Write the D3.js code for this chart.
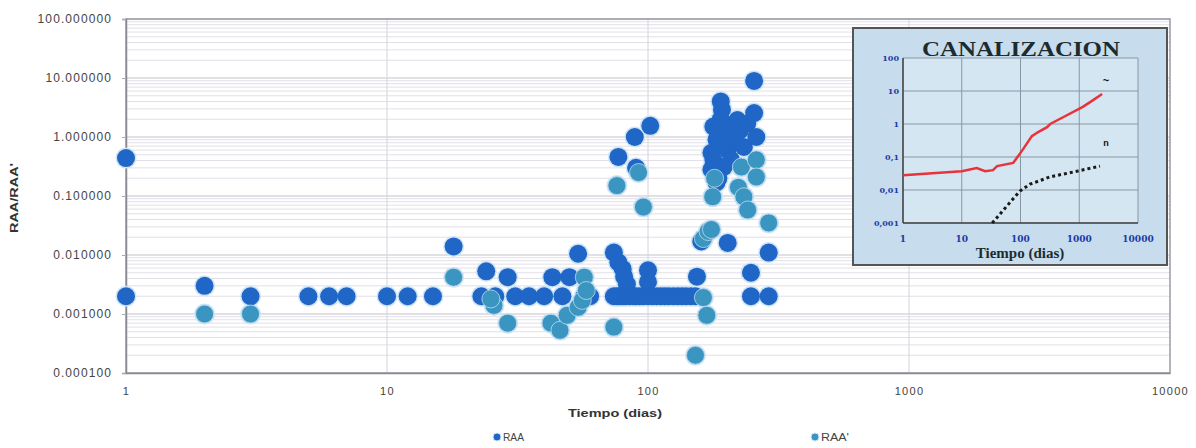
<!DOCTYPE html>
<html>
<head>
<meta charset="utf-8">
<script src="https://cdn.jsdelivr.net/npm/d3@7"></script>
<style>
body { margin: 0; background: #fff; }
text { font-family: "Liberation Sans", Arial, sans-serif; }
</style>
</head>
<body>
<svg id="chart" width="1196" height="448"></svg>
<script>
"use strict"

// RAA series (tiempo, valor)
const raaTime = [1, 1, 2, 3, 5, 6, 7, 10, 12, 15, 18,
    23, 24, 26, 29, 31, 35, 40, 43, 47, 50, 54, 57, 60,
    74, 77, 80, 81, 83, 74, 76, 78, 80, 82, 85, 88, 90, 93, 96, 100, 100, 100,
    104, 108, 112, 116, 120, 125, 130, 135, 140, 146, 152, 154,
    77, 89, 102, 90, 160, 202,
    190, 192, 178, 183, 175, 175, 183, 195, 202, 202, 220, 216, 233, 208, 178,
    190, 185, 195, 210, 225, 240, 255, 255, 260, 186,
    248, 290, 248, 290]
const raaValue = [0.44, 0.002, 0.003, 0.002, 0.002, 0.002, 0.002, 0.002, 0.002, 0.002, 0.014,
    0.002, 0.0053, 0.002, 0.0042, 0.002, 0.002, 0.002, 0.0042, 0.002, 0.0042, 0.0105, 0.002, 0.002,
    0.011, 0.0075, 0.0058, 0.0043, 0.0032, 0.002, 0.002, 0.002, 0.002, 0.002, 0.002, 0.002, 0.002, 0.002, 0.002, 0.002, 0.0055, 0.0035,
    0.002, 0.002, 0.002, 0.002, 0.002, 0.002, 0.002, 0.002, 0.002, 0.002, 0.002, 0.0043,
    0.46, 1.0, 1.55, 0.3, 0.017, 0.016,
    4.0, 2.9, 1.5, 0.9, 0.54, 0.28, 0.17, 0.31, 0.6, 1.5, 1.94, 0.9, 0.68, 0.41, 0.41,
    2.0, 1.2, 0.75, 1.2, 1.3, 1.7, 8.9, 2.55, 1.0, 0.2,
    0.005, 0.011, 0.002, 0.002]

// RAA' series
const raapTime = [2, 3, 18, 25.7, 25, 29, 42.5, 46, 49, 54, 56, 57, 58, 74,
    76, 96, 92,
    152, 163, 168, 163, 170, 175,
    177, 222, 228, 233, 241, 260, 260, 290, 180]
const raapValue = [0.001, 0.001, 0.0042, 0.0014, 0.0018, 0.0007, 0.0007, 0.00053, 0.00095, 0.0013, 0.0017, 0.0042, 0.0025, 0.0006,
    0.15, 0.065, 0.25,
    0.0002, 0.0019, 0.00095, 0.019, 0.025, 0.027,
    0.097, 0.14, 0.31, 0.097, 0.058, 0.41, 0.21, 0.035, 0.2]

const xTicks = [1, 10, 100, 1000, 10000]
const yTicks = [0.0001, 0.001, 0.01, 0.1, 1, 10, 100]

// inset "CANALIZACION"
const insetTitle = "CANALIZACION"
const redTime = [1, 10, 18, 25, 34, 40, 75, 110, 156, 200, 283, 320, 530, 1150, 1530, 2450]
const redValue = [0.028, 0.037, 0.046, 0.037, 0.04, 0.053, 0.066, 0.17, 0.43, 0.57, 0.8, 1.0, 1.6, 3.3, 4.6, 8.1]
const dotTime = [33, 59, 98, 145, 320, 910, 2250]
const dotValue = [0.001, 0.0033, 0.0093, 0.015, 0.025, 0.037, 0.053]
const insetXTicks = [1, 10, 100, 1000, 10000]
const insetXLabels = ["1", "10", "100", "1000", "10000"]
const insetYTicks = [0.001, 0.01, 0.1, 1, 10, 100]
const insetYLabels = ["0,001", "0,01", "0,1", "1", "10", "100"]

const svg = d3.select("#chart")
const pLeft = 126, pRight = 1170, pTop = 19, pBottom = 373

let x = d3.scaleLog().domain([1, 10000]).range([pLeft, pRight])
let y = d3.scaleLog().domain([0.0001, 100]).range([pBottom, pTop])

// minor + major gridlines
let minor = []
for (let e = -4; e < 2; e++)
    for (let m = 2; m <= 9; m++) minor.push(m * Math.pow(10, e))

svg.append("g").selectAll("line").data(minor).enter().append("line")
    .attr("x1", pLeft).attr("x2", pRight)
    .attr("y1", d => y(d)).attr("y2", d => y(d))
    .attr("stroke", "#e0e0e8").attr("stroke-width", 1)

svg.append("g").selectAll("line").data(yTicks).enter().append("line")
    .attr("x1", pLeft).attr("x2", pRight)
    .attr("y1", d => y(d)).attr("y2", d => y(d))
    .attr("stroke", "#c4c4cc").attr("stroke-width", 1.2)

svg.append("g").selectAll("line").data(xTicks.slice(1, -1)).enter().append("line")
    .attr("x1", d => x(d)).attr("x2", d => x(d))
    .attr("y1", pTop).attr("y2", pBottom)
    .attr("stroke", "#d4d4dc").attr("stroke-width", 1)

// frame
svg.append("rect")
    .attr("x", pLeft).attr("y", pTop)
    .attr("width", pRight - pLeft).attr("height", pBottom - pTop)
    .attr("fill", "none").attr("stroke", "#9a9aa4").attr("stroke-width", 1.5)

// axes
let yAxis = svg.append("g")
    .attr("transform", "translate(" + pLeft + ",0)")
    .call(d3.axisLeft(y).tickValues(yTicks).tickFormat(d3.format(".6f")).tickSize(4))
yAxis.select(".domain").attr("stroke", "#8a8a94").attr("stroke-width", 1.5)
yAxis.selectAll(".tick line").attr("stroke", "#aaa")
yAxis.selectAll(".tick text")
    .attr("fill", "#444").style("font-size", "12px").style("letter-spacing", "1.1px")
    .attr("x", -14)

let xAxis = svg.append("g")
    .attr("transform", "translate(0," + pBottom + ")")
    .call(d3.axisBottom(x).tickValues(xTicks).tickFormat(d3.format("d")).tickSize(0))
xAxis.select(".domain").attr("stroke", "#8a8a94").attr("stroke-width", 1.5)
xAxis.selectAll(".tick text")
    .attr("fill", "#444").style("font-size", "11px").style("letter-spacing", "1.3px")
    .attr("y", 14)

svg.append("text")
    .attr("x", 568).attr("y", 417)
    .attr("textLength", 94).attr("lengthAdjust", "spacingAndGlyphs")
    .style("font-size", "11px").style("font-weight", "bold").attr("fill", "#333")
    .text("Tiempo (dias)")

svg.append("text")
    .attr("transform", "translate(18,198) rotate(-90)")
    .attr("text-anchor", "middle")
    .attr("textLength", 70).attr("lengthAdjust", "spacingAndGlyphs")
    .style("font-size", "11px").style("font-weight", "bold").attr("fill", "#333")
    .text("RAA/RAA'")

// points: a pale halo under every marker, then the fills
const raaColor = "#1f66c6", raapColor = "#3b95c1"
let allPts = raaTime.map((t, i) => [t, raaValue[i]])
    .concat(raapTime.map((t, i) => [t, raapValue[i]]))

svg.append("g").selectAll("circle").data(allPts).enter().append("circle")
    .attr("cx", d => x(d[0])).attr("cy", d => y(d[1]))
    .attr("r", 10.5).attr("fill", "#cfe4f6")

svg.append("g").selectAll("circle").data(raaTime).enter().append("circle")
    .attr("cx", d => x(d)).attr("cy", (d, i) => y(raaValue[i]))
    .attr("r", 9).attr("fill", raaColor)

svg.append("g").selectAll("circle").data(raapTime).enter().append("circle")
    .attr("cx", d => x(d)).attr("cy", (d, i) => y(raapValue[i]))
    .attr("r", 9).attr("fill", raapColor)
    .attr("stroke", "#bfdcef").attr("stroke-width", 0.8)

// legend
let legend = [{name: "RAA", color: raaColor, x: 497}, {name: "RAA'", color: raapColor, x: 815}]
let lg = svg.append("g").selectAll("g").data(legend).enter().append("g")
    .attr("transform", d => "translate(" + d.x + ",437)")
lg.append("circle").attr("r", 4).attr("fill", d => d.color)
    .attr("stroke", "#cde4f6").attr("stroke-width", 1)
lg.append("text").attr("x", 6).attr("y", 4)
    .style("font-size", "11px").attr("fill", "#444")
    .attr("textLength", d => d.name.length * 7).attr("lengthAdjust", "spacingAndGlyphs")
    .text(d => d.name)

// inset chart
const ins = svg.append("g")
ins.append("rect")
    .attr("x", 853).attr("y", 28).attr("width", 314).attr("height", 237)
    .attr("fill", "#c7dcec").attr("stroke", "#555").attr("stroke-width", 2)

let ix = d3.scaleLog().domain([1, 10000]).range([903, 1138])
let iy = d3.scaleLog().domain([0.001, 100]).range([223, 58])

ins.append("rect")
    .attr("x", 903).attr("y", 58).attr("width", 235).attr("height", 165)
    .attr("fill", "#d5e6f3")

ins.append("g").selectAll("line").data(insetYTicks).enter().append("line")
    .attr("x1", 903).attr("x2", 1138)
    .attr("y1", d => iy(d)).attr("y2", d => iy(d))
    .attr("stroke", "#8796a4").attr("stroke-width", 1)
ins.append("g").selectAll("line").data(insetXTicks).enter().append("line")
    .attr("x1", d => ix(d)).attr("x2", d => ix(d))
    .attr("y1", 58).attr("y2", 223)
    .attr("stroke", "#8796a4").attr("stroke-width", 1)
ins.append("line").attr("x1", 903).attr("x2", 903).attr("y1", 58).attr("y2", 223)
    .attr("stroke", "#444").attr("stroke-width", 1.5)
ins.append("line").attr("x1", 903).attr("x2", 1138).attr("y1", 223).attr("y2", 223)
    .attr("stroke", "#444").attr("stroke-width", 1.5)

ins.append("text")
    .attr("x", 1021).attr("y", 56).attr("text-anchor", "middle")
    .style("font-family", "'Liberation Serif','DejaVu Serif',serif")
    .style("font-size", "20px").style("font-weight", "bold").attr("fill", "#1d2b2e")
    .attr("textLength", 198).attr("lengthAdjust", "spacingAndGlyphs")
    .text(insetTitle)

ins.append("g").selectAll("text").data(insetYTicks).enter().append("text")
    .attr("x", 899).attr("y", d => iy(d) + 3).attr("text-anchor", "end")
    .style("font-family", "'DejaVu Serif','Liberation Serif',serif")
    .style("font-size", "8px").style("font-weight", "bold").attr("fill", "#1c3aa6")
    .text((d, i) => insetYLabels[i])

ins.append("g").selectAll("text").data(insetXTicks).enter().append("text")
    .attr("x", d => ix(d)).attr("y", 242).attr("text-anchor", "middle")
    .style("font-family", "'DejaVu Serif','Liberation Serif',serif")
    .style("font-size", "9px").style("font-weight", "bold").attr("fill", "#1c3aa6")
    .text((d, i) => insetXLabels[i])

ins.append("text")
    .attr("x", 1020).attr("y", 258).attr("text-anchor", "middle")
    .style("font-family", "'Liberation Serif','DejaVu Serif',serif")
    .style("font-size", "15px").style("font-weight", "bold").attr("fill", "#1d2b2e")
    .text("Tiempo (dias)")

let iline = d3.line().x(d => ix(d[0])).y(d => iy(d[1]))
ins.append("path")
    .attr("d", iline(redTime.map((t, i) => [t, redValue[i]])))
    .attr("fill", "none").attr("stroke", "#e8333a").attr("stroke-width", 2.5)
ins.append("path")
    .attr("d", iline(dotTime.map((t, i) => [t, dotValue[i]])))
    .attr("fill", "none").attr("stroke", "#1a1a1a").attr("stroke-width", 3)
    .attr("stroke-dasharray", "3,3")

// small marks to the right of the curves
ins.append("text").attr("x", 1106).attr("y", 84).attr("text-anchor", "middle")
    .style("font-size", "11px").style("font-weight", "bold").attr("fill", "#111").text("~")
ins.append("text").attr("x", 1106).attr("y", 146).attr("text-anchor", "middle")
    .style("font-size", "9px").style("font-weight", "bold").attr("fill", "#111").text("n")
</script>
</body>
</html>
